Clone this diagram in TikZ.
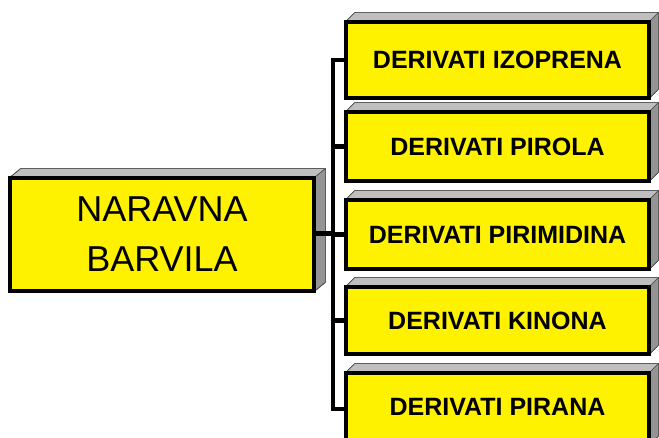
\documentclass[tikz,border=0pt]{standalone}
\usepackage{fontspec}
\setmainfont{Liberation Sans}
\begin{document}
\begin{tikzpicture}[x=1pt,y=1pt,
  front/.style={draw=black,line width=2.8pt,fill=yellow,inner sep=0pt,align=center},
  topface/.style={fill=black!25,draw=black!70,line width=0.6pt},
  sideface/.style={fill=black!42,draw=black!70,line width=0.6pt},
  conn/.style={line width=4.5pt,draw=black},
  lbl/.style={font=\bfseries\fontsize{25}{28}\selectfont}
]
\useasboundingbox (0,0) rectangle (659,437);
\clip (0,0) rectangle (659,437);
\fill[white] (0,0) rectangle (659,437);
% helper to draw 3D faces
\newcommand{\faces}[3]{% node, dx, dy
  \fill[topface] (#1.north west) -- ++(#2,#3) -- ([shift={(#2,#3)}]#1.north east) -- (#1.north east) -- cycle;
  \fill[sideface] (#1.north east) -- ++(#2,#3) -- ([shift={(#2,#3)}]#1.south east) -- (#1.south east) -- cycle;
  \draw[topface,fill=none] (#1.north west) -- ++(#2,#3) -- ([shift={(#2,#3)}]#1.north east) -- ([shift={(#2,#3)}]#1.south east) -- (#1.south east);
}
% left box
\node[front,minimum width=302pt,minimum height=111pt,
  font=\fontsize{36}{50}\selectfont] (L) at (162,202.5) {NARAVNA\\BARVILA};
% right boxes
\node[front,minimum width=301pt,minimum height=74pt,lbl] (B1) at (497.5,377) {DERIVATI IZOPRENA};
\node[front,minimum width=301pt,minimum height=67pt,lbl] (B2) at (497.5,290.5) {DERIVATI PIROLA};
\node[front,minimum width=301pt,minimum height=67pt,lbl] (B3) at (497.5,202.5) {DERIVATI PIRIMIDINA};
\node[front,minimum width=301pt,minimum height=65pt,lbl] (B4) at (497.5,116.5) {DERIVATI KINONA};
\node[front,minimum width=301pt,minimum height=70pt,lbl] (B5) at (497.5,28) {\raisebox{4pt}{DERIVATI PIRANA}};
\faces{L}{11}{9}
\foreach \b in {B1,B2,B3,B4,B5}{\faces{\b}{9}{9}}
% redraw front borders on top
\foreach \b in {L,B1,B2,B3,B4,B5}{\draw[black,line width=2.8pt] (\b.north west) rectangle (\b.south east);}
% connectors
\coordinate (bus) at (333,0);
\draw[conn] (B1.west) -- (B1.west -| bus) -- (B5.west -| bus) -- (B5.west);
\draw[conn] (B2.west) -- (B2.west -| bus);
\draw[conn] (B3.west) -- (B3.west -| bus);
\draw[conn] (B4.west) -- (B4.west -| bus);
\draw[conn] ([yshift=1pt]L.east) -- ([yshift=1pt]L.east -| bus);
\end{tikzpicture}
\end{document}
